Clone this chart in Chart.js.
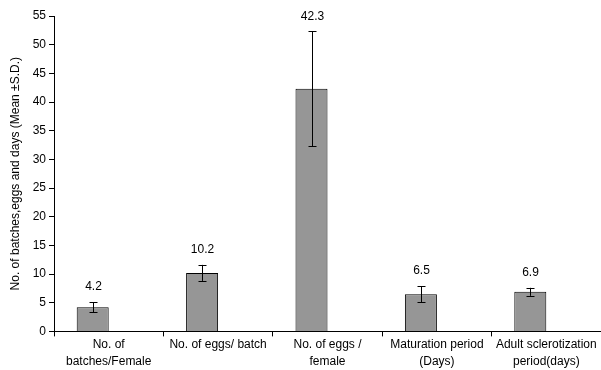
<!DOCTYPE html>
<html>
<head>
<meta charset="utf-8">
<script src="https://cdn.jsdelivr.net/npm/chart.js@4"></script>
<style>
  html, body { margin: 0; padding: 0; background: #fff; }
  #wrap { width: 601px; height: 370px; position: relative; }
</style>
</head>
<body>
<div id="wrap"><canvas id="chart"></canvas></div>
<script>
// Dados do gráfico
const categories = [
    ['No. of', 'batches/Female'],
    'No. of eggs/ batch',
    ['No. of eggs /', 'female'],
    ['Maturation period', '(Days)'],
    ['Adult sclerotization', 'period(days)']
];
const means = [4.2, 10.2, 42.3, 6.5, 6.9];
const sds = [0.9, 1.4, 10.0, 1.4, 0.7];
const yTicks = [0, 5, 10, 15, 20, 25, 30, 35, 40, 45, 50, 55];

const FONT = 'Liberation Sans, Arial, sans-serif';

// Barras de erro (média ± desvio padrão) e rótulos de valor
const errorBarPlugin = {
    id: 'errorBars',
    afterDatasetsDraw(chart) {
        const ctx = chart.ctx;
        const y = chart.scales.y;
        const bars = chart.getDatasetMeta(0).data;
        ctx.save();
        ctx.strokeStyle = '#000';
        ctx.lineWidth = 1;
        means.forEach((m, i) => {
            const px = Math.round(bars[i].x) + 0.5;
            const top = y.getPixelForValue(m + sds[i]);
            const bot = y.getPixelForValue(m - sds[i]);
            ctx.beginPath();
            ctx.moveTo(px, top); ctx.lineTo(px, bot);
            ctx.moveTo(px - 4, Math.round(top) + 0.5); ctx.lineTo(px + 4, Math.round(top) + 0.5);
            ctx.moveTo(px - 4, Math.round(bot) + 0.5); ctx.lineTo(px + 4, Math.round(bot) + 0.5);
            ctx.stroke();

            ctx.fillStyle = '#000';
            ctx.font = '12px ' + FONT;
            ctx.textAlign = 'center';
            ctx.textBaseline = 'middle';
            ctx.fillText(m.toFixed(1), px, top - 15);
        });
        ctx.restore();
    }
};

new Chart(document.getElementById('chart'), {
    type: 'bar',
    data: {
        labels: categories,
        datasets: [{
            data: means,
            backgroundColor: '#969696',
            borderColor: '#000',
            borderWidth: 1
        }, {
            // série vazia, como no original (barras deslocadas à esquerda)
            data: means.map(() => null),
            backgroundColor: 'rgba(0,0,0,0)'
        }]
    },
    options: {
        responsive: true,
        maintainAspectRatio: false,
        animation: false,
        devicePixelRatio: 1,
        datasets: { bar: { barPercentage: 1, categoryPercentage: 0.585 } },
        layout: { padding: { top: 16, right: 0, left: 0, bottom: 0 } },
        plugins: {
            legend: { display: false },
            tooltip: { enabled: false }
        },
        scales: {
            x: {
                grid: { display: true, drawOnChartArea: false, offset: true, tickLength: 5, color: '#000' },
                border: { color: '#000' },
                ticks: { color: '#000', font: { family: FONT, size: 12, lineHeight: 1.4 }, maxRotation: 0, autoSkip: false, padding: 0 }
            },
            y: {
                min: 0,
                max: 55,
                afterBuildTicks: axis => { axis.ticks = yTicks.map(v => ({ value: v })); },
                afterFit: axis => { axis.width = 54; },
                grid: { display: true, drawOnChartArea: false, tickLength: 5, color: '#000' },
                border: { color: '#000' },
                ticks: { color: '#000', font: { family: FONT, size: 12 }, padding: 3 },
                title: {
                    display: true,
                    text: 'No. of batches,eggs and days (Mean ±S.D.)',
                    color: '#000',
                    font: { family: FONT, size: 12 },
                    padding: { top: 8, bottom: 0 }
                }
            }
        }
    },
    plugins: [errorBarPlugin]
});
</script>
</body>
</html>
